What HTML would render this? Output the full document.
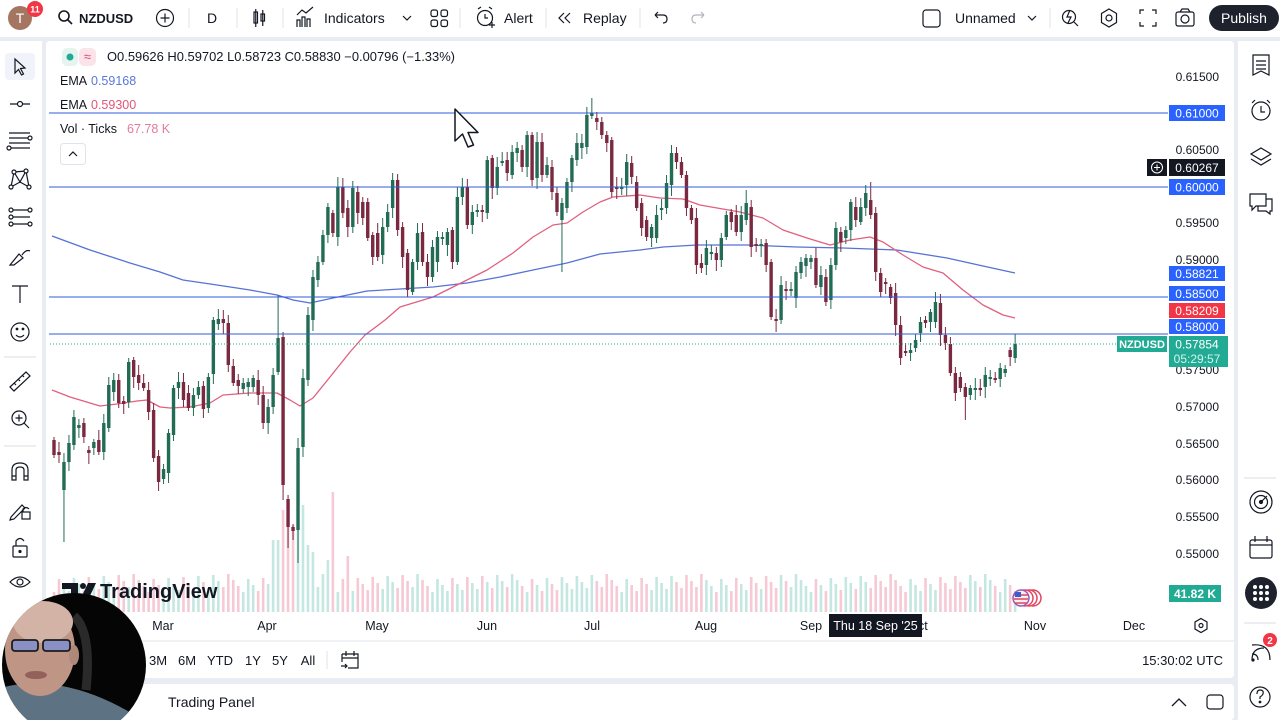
<!DOCTYPE html>
<html><head><meta charset="utf-8">
<style>
html,body{margin:0;padding:0;width:1280px;height:720px;overflow:hidden;background:#e9ecf2;}
svg{display:block;font-family:"Liberation Sans",sans-serif;}
</style></head><body>
<svg id="s" width="1280" height="720" viewBox="0 0 1280 720" xmlns="http://www.w3.org/2000/svg">
<defs>
<clipPath id="plot"><rect x="49" y="41" width="1119" height="571"/></clipPath>
<clipPath id="cam"><ellipse cx="74" cy="665" rx="72" ry="72"/></clipPath>
</defs>
<rect width="1280" height="720" fill="#e9ecf2"/>
<!-- panels -->
<rect x="0" y="0" width="1280" height="37" fill="#fff"/>
<rect x="0" y="41" width="42" height="679" fill="#fff"/>
<rect x="46" y="41" width="1188" height="637" rx="4" fill="#fff"/>
<rect x="1238" y="41" width="42" height="679" fill="#fff"/>
<rect x="46" y="684" width="1188" height="36" rx="4" fill="#fff"/>
<line x1="46" y1="641" x2="1234" y2="641" stroke="#e0e3eb"/>

<!-- TOP TOOLBAR -->
<g font-size="14" fill="#131722">
<circle cx="20" cy="18" r="12" fill="#a47560"/>
<text x="20" y="23" text-anchor="middle" fill="#fff" font-size="14">T</text>
<circle cx="35" cy="9" r="8" fill="#f23645"/>
<text x="35" y="12.5" text-anchor="middle" fill="#fff" font-size="9" font-weight="bold">11</text>
<circle cx="64" cy="16" r="5" fill="none" stroke="#131722" stroke-width="1.6"/>
<line x1="67.5" y1="19.5" x2="72" y2="24" stroke="#131722" stroke-width="1.6"/>
<text x="79" y="23" font-weight="bold" font-size="13">NZDUSD</text>
<circle cx="165" cy="18" r="8.5" fill="none" stroke="#131722" stroke-width="1.2"/>
<path d="M165 13.5V22.5M160.5 18H169.5" stroke="#131722" stroke-width="1.2"/>
<text x="212" y="23" text-anchor="middle">D</text>
<g stroke="#131722" stroke-width="1.2" fill="none"><rect x="254" y="12" width="3.5" height="11"/><line x1="255.75" y1="9" x2="255.75" y2="27"/><rect x="261" y="14" width="3.5" height="7"/><line x1="262.75" y1="10" x2="262.75" y2="26"/></g>
<g stroke="#131722" stroke-width="1.2" fill="none"><path d="M297 27V20H300V27M302 27V17H305V27M307 27V19H310V27M297 15L302 10L306 13L313 7"/></g>
<text x="324" y="23">Indicators</text>
<path d="M403 16L407 20L411 16" stroke="#131722" stroke-width="1.2" fill="none"/>
<g stroke="#131722" stroke-width="1.2" fill="none"><rect x="431" y="10" width="6.5" height="6.5" rx="2"/><rect x="441" y="10" width="6.5" height="6.5" rx="2"/><rect x="431" y="20" width="6.5" height="6.5" rx="2"/><rect x="441" y="20" width="6.5" height="6.5" rx="2"/></g>
<g stroke="#131722" stroke-width="1.2" fill="none"><circle cx="485" cy="18" r="7.5"/><path d="M485 14V18H488M478 9L481 7M492 9L489 7M489 25H495M492 22V28"/></g>
<text x="504" y="23">Alert</text>
<path d="M564 13L559 18L564 23M570 13L565 18L570 23" stroke="#131722" stroke-width="1.2" fill="none"/>
<text x="583" y="23">Replay</text>
<path d="M655 15H663Q667 15 667 19Q667 23 663 23M655 15L658 12M655 15L658 18" stroke="#131722" stroke-width="1.2" fill="none"/>
<path d="M704 15H696Q692 15 692 19Q692 23 696 23M704 15L701 12M704 15L701 18" stroke="#b2b5be" stroke-width="1.2" fill="none"/>
<g stroke="#e0e3eb"><line x1="189" y1="8" x2="189" y2="28"/><line x1="237" y1="8" x2="237" y2="28"/><line x1="283" y1="8" x2="283" y2="28"/><line x1="460" y1="8" x2="460" y2="28"/><line x1="546" y1="8" x2="546" y2="28"/><line x1="640" y1="8" x2="640" y2="28"/><line x1="1050" y1="8" x2="1050" y2="28"/></g>
<rect x="923" y="10" width="17" height="17" rx="3" fill="none" stroke="#131722" stroke-width="1.2"/>
<text x="955" y="23">Unnamed</text>
<path d="M1028 16L1032 20L1036 16" stroke="#131722" stroke-width="1.2" fill="none"/>
<g stroke="#131722" stroke-width="1.2" fill="none">
<circle cx="1069" cy="17" r="6.5"/><path d="M1074 22L1078 26M1070 10L1067 17H1071L1068 23"/>
<path d="M1109 9L1116.5 13.5V22.5L1109 27L1101.5 22.5V13.5Z"/><circle cx="1109" cy="18" r="3"/>
<path d="M1140 14V10H1144M1152 10H1156V14M1156 22V26H1152M1144 26H1140V22"/>
<rect x="1176" y="12" width="18" height="14" rx="2"/><circle cx="1185" cy="19" r="4"/><path d="M1180 12L1182 9H1188L1190 12"/>
</g>
<rect x="1209" y="5" width="70" height="26" rx="13" fill="#1e222d"/>
<text x="1244" y="23" text-anchor="middle" fill="#fff">Publish</text>
</g>

<!-- LEFT TOOLBAR -->
<g stroke="#131722" stroke-width="1.2" fill="none">
<rect x="5" y="53" width="30" height="27" rx="4" fill="#f0f3fa" stroke="none"/>
<path d="M15 59L15 73L18.5 69.5L21.5 75L23.5 74L20.5 68.5L25 68Z"/>
<line x1="10" y1="104" x2="30" y2="104"/><circle cx="20" cy="104" r="2.5" fill="#fff"/>
<path d="M9 133H30M9 138H28M9 143H30M11 148H30"/><circle cx="30" cy="138" r="2" fill="#fff"/><circle cx="9" cy="148" r="2" fill="#fff"/>
<path d="M11 187L14 172L20 182L26 171L29 187M14 172L26 171M11 187L20 182L29 187"/><circle cx="14" cy="172" r="2" fill="#fff"/><circle cx="26" cy="171" r="2" fill="#fff"/><circle cx="11" cy="187" r="2" fill="#fff"/><circle cx="29" cy="187" r="2" fill="#fff"/>
<path d="M11 210H30M11 217H30M11 224H30"/><circle cx="11" cy="210" r="2" fill="#fff"/><circle cx="11" cy="217" r="2" fill="#fff"/><circle cx="11" cy="224" r="2" fill="#fff"/><circle cx="30" cy="210" r="2" fill="#fff"/><circle cx="30" cy="224" r="2" fill="#fff"/>
<path d="M10 265L19 254L23 258L14 265ZM22 255Q26 249 30 251"/>
<path d="M12 286H28M20 286V303"/>
<circle cx="20" cy="332" r="9"/><path d="M16 335Q20 339 24 335"/><circle cx="17" cy="329" r="0.8" fill="#131722"/><circle cx="23" cy="329" r="0.8" fill="#131722"/>
<line x1="4" y1="357" x2="36" y2="357" stroke="#e0e3eb"/>
<path d="M10 387L26 372L30 376L14 391Z M14 383L16 385M18 379L20 381M22 375L24 377"/>
<circle cx="19" cy="418" r="7"/><path d="M19 414.5V421.5M15.5 418H22.5M24 423L29 428"/>
<line x1="4" y1="446" x2="36" y2="446" stroke="#e0e3eb"/>
<path d="M12 480V470Q12 463 20 463Q28 463 28 470V480H24V470Q24 467 20 467Q16 467 16 470V480Z M12 476H16M24 476H28"/>
<path d="M11 517L22 505L25 508L14 519L10 520Z"/><rect x="22" y="512" width="8" height="7"/><path d="M23 512V509Q26 506 29 509"/>
<rect x="13" y="546" width="14" height="11" rx="1"/><path d="M16 546V541Q20 536 24 541"/><circle cx="20" cy="551.5" r="1" fill="#131722"/>
<path d="M10 582Q20 572 30 582Q20 592 10 582Z"/><circle cx="20" cy="582" r="3"/>
</g>

<!-- RIGHT TOOLBAR -->
<g stroke="#131722" stroke-width="1.2" fill="none">
<path d="M1253 55H1269V75L1261 71L1253 75Z M1256 61H1266M1256 65H1266M1256 69H1266"/>
<circle cx="1261" cy="111" r="9"/><path d="M1261 106V112H1265M1252 103L1255 100M1270 103L1267 100"/>
<path d="M1261 148L1271 154L1261 160L1251 154Z M1251 159L1261 165L1271 159"/>
<path d="M1250 194H1266V206H1256L1252 210V206H1250Z M1266 199H1272V211H1270V214L1266 211H1258V206"/>
<line x1="1244" y1="478" x2="1276" y2="478" stroke="#e0e3eb"/>
<circle cx="1261" cy="502" r="11"/><circle cx="1261" cy="502" r="6.5"/><path d="M1261 502L1267 496"/><circle cx="1261" cy="502" r="1.5" fill="#131722"/>
<rect x="1250" y="540" width="22" height="18" rx="2"/><path d="M1250 545H1272M1255 536V542M1267 536V542"/>
<line x1="1244" y1="623" x2="1276" y2="623" stroke="#e0e3eb"/>
<path d="M1252 660Q1252 648 1264 648M1252 654Q1258 654 1258 660M1252 645Q1270 643 1270 660"/>
<circle cx="1253" cy="660" r="1" fill="#131722"/>
<circle cx="1260" cy="697" r="10"/><path d="M1257 694Q1257 690 1260 690Q1264 690 1263 694Q1262 696 1260 697V699"/><circle cx="1260" cy="702" r="0.8" fill="#131722"/>
</g>
<circle cx="1261" cy="593" r="16" fill="#1e222d"/>
<g fill="#fff"><circle cx="1255" cy="587" r="2"/><circle cx="1261" cy="587" r="2"/><circle cx="1267" cy="587" r="2"/><circle cx="1255" cy="593" r="2"/><circle cx="1261" cy="593" r="2"/><circle cx="1267" cy="593" r="2"/><circle cx="1255" cy="599" r="2"/><circle cx="1261" cy="599" r="2"/><circle cx="1267" cy="599" r="2"/></g>
<circle cx="1270" cy="640" r="7" fill="#f23645"/>
<text x="1270" y="644" text-anchor="middle" font-size="10" font-weight="bold" fill="#fff">2</text>

<!-- CHART -->
<g clip-path="url(#plot)">
<g id="vol"></g>
<polyline fill="none" stroke="#5672d6" stroke-width="1.3" stroke-linejoin="round" points="52,236 90,250 130,263 160,272 183,280 217,285 250,290 277,295 293,300 310,303 333,298 367,291 400,289 433,287 467,283 500,277 533,270 567,263 600,254 640,250 663,247 697,245 747,245 797,247 843,248 897,250 947,258 983,266 1015,273"/>
<polyline fill="none" stroke="#e0607e" stroke-width="1.3" stroke-linejoin="round" points="52,390 70,397 100,406 117,404 137,401 147,400 160,407 170,408 190,407 210,403 223,395 250,393 277,393 290,400 300,406 313,398 330,377 350,352 365,335 385,320 400,307 433,297 457,285 487,270 513,253 533,237 553,225 567,223 583,212 600,202 613,197 640,195 660,198 683,199 700,205 717,208 740,212 763,218 783,230 807,238 830,245 850,240 870,237 883,242 903,255 923,267 943,273 963,290 983,305 1003,315 1015,318"/>
<g id="cdl"></g>
<g stroke="#2f5bd8" stroke-width="1"><line x1="44" y1="113" x2="1168" y2="113"/><line x1="44" y1="187" x2="1168" y2="187"/><line x1="44" y1="297" x2="1168" y2="297"/><line x1="44" y1="334" x2="1168" y2="334"/></g>
<line x1="44" y1="344" x2="1117" y2="344" stroke="#22ab94" stroke-dasharray="1 2"/>
</g>

<!-- Legend -->
<rect x="62" y="48" width="16" height="18" rx="5" fill="#e6f3ee"/>
<circle cx="70" cy="57" r="3.5" fill="#22ab94"/>
<rect x="79" y="48" width="17" height="18" rx="5" fill="#fbe3ea"/>
<text x="87.5" y="61" text-anchor="middle" font-size="13" fill="#e0457b">≈</text>
<g font-size="12.5" fill="#131722">
<text x="107" y="61" textLength="348" lengthAdjust="spacingAndGlyphs">O0.59626 H0.59702 L0.58723 C0.58830 −0.00796 (−1.33%)</text>
<text x="60" y="85">EMA</text><text x="91" y="85" fill="#5a77dc">0.59168</text>
<text x="60" y="109">EMA</text><text x="91" y="109" fill="#e0557a">0.59300</text>
<text x="60" y="133">Vol · Ticks</text><text x="127" y="133" fill="#e57a9d">67.78 K</text>
</g>
<rect x="60.5" y="143.5" width="25" height="21" rx="3" fill="#fff" stroke="#e0e3eb"/>
<path d="M69 156L73 152L77 156" stroke="#131722" stroke-width="1.2" fill="none"/>

<!-- Price axis -->
<g font-size="12" fill="#131722" text-anchor="end">
<text x="1219" y="81">0.61500</text>
<text x="1219" y="154">0.60500</text>
<text x="1219" y="227">0.59500</text>
<text x="1219" y="264">0.59000</text>
<text x="1219" y="374">0.57500</text>
<text x="1219" y="411">0.57000</text>
<text x="1219" y="448">0.56500</text>
<text x="1219" y="484">0.56000</text>
<text x="1219" y="521">0.55500</text>
<text x="1219" y="558">0.55000</text>
</g>
<g font-size="12" text-anchor="middle" fill="#fff">
<rect x="1169" y="105" width="56" height="16" fill="#2962ff"/><text x="1197" y="117.5">0.61000</text>
<rect x="1147" y="159" width="20" height="17" fill="#131722"/><circle cx="1157" cy="167.5" r="5.5" fill="none" stroke="#fff" stroke-width="1"/><path d="M1157 164.5V170.5M1154 167.5H1160" stroke="#fff"/>
<rect x="1169" y="159" width="56" height="17" fill="#131722"/><text x="1197" y="172">0.60267</text>
<rect x="1169" y="179" width="56" height="16" fill="#2962ff"/><text x="1197" y="191.5">0.60000</text>
<rect x="1169" y="266" width="56" height="15" fill="#2962ff"/><text x="1197" y="278">0.58821</text>
<rect x="1169" y="286" width="56" height="15" fill="#2962ff"/><text x="1197" y="298">0.58500</text>
<rect x="1169" y="303" width="56" height="15" fill="#f23645"/><text x="1197" y="315">0.58209</text>
<rect x="1169" y="319" width="56" height="15" fill="#2962ff"/><text x="1197" y="331">0.58000</text>
<rect x="1117" y="336" width="50" height="16" fill="#22ab94"/><text x="1142" y="348" font-size="11" font-weight="bold">NZDUSD</text>
<rect x="1169" y="336" width="59" height="31" fill="#22ab94"/><text x="1197" y="348.5">0.57854</text><text x="1197" y="363" fill="#d6f2ec">05:29:57</text>
<rect x="1169" y="585" width="52" height="17" fill="#22ab94"/><text x="1195" y="598" font-weight="bold">41.82 K</text>
</g>

<!-- Cursor -->
<path d="M455 109L455 141L462.5 134L468 147L473.5 145L468 132.5L478 132.5Z" fill="#fff" stroke="#131722" stroke-width="1.5" stroke-linejoin="round"/>

<!-- TradingView logo -->
<g fill="#131722">
<path d="M62 583H78V598H71V589H62Z"/>
<circle cx="83" cy="586" r="3"/>
<path d="M88 583H96L89 598H81Z"/>
<text x="100" y="598" font-size="20" font-weight="bold">TradingView</text>
</g>

<!-- events icon -->
<g>
<circle cx="1033" cy="598" r="8" fill="#fff" stroke="#e2455f" stroke-width="1.5"/>
<circle cx="1029" cy="598" r="8" fill="#fff" stroke="#e2455f" stroke-width="1.5"/>
<circle cx="1025" cy="598" r="8" fill="#fff" stroke="#e2455f" stroke-width="1.5"/>
<circle cx="1021" cy="598" r="8" fill="#f0f0f0" stroke="#9b59b6" stroke-width="1.5"/>
<path d="M1014 595H1028M1014 599H1028M1015 603H1027" stroke="#e2455f" stroke-width="1.5"/>
<rect x="1015" y="592" width="6" height="5" fill="#3c5ccf"/>
</g>

<!-- Time axis -->
<g font-size="12.5" fill="#131722" text-anchor="middle">
<text x="163" y="630">Mar</text><text x="267" y="630">Apr</text><text x="377" y="630">May</text><text x="487" y="630">Jun</text><text x="592" y="630">Jul</text><text x="706" y="630">Aug</text><text x="811" y="630">Sep</text><text x="918" y="630">Oct</text><text x="1035" y="630">Nov</text><text x="1134" y="630">Dec</text>
</g>
<rect x="829" y="614" width="93" height="23" fill="#131722"/>
<text x="875.5" y="630" text-anchor="middle" font-size="12.5" fill="#fff">Thu 18 Sep '25</text>
<path d="M1201 618.5L1207 622V629L1201 632.5L1195 629V622Z" fill="none" stroke="#131722" stroke-width="1.2"/><circle cx="1201" cy="625.5" r="2" fill="none" stroke="#131722" stroke-width="1.2"/>

<!-- Range bar -->
<g font-size="13" fill="#131722" text-anchor="middle">
<text x="158" y="665">3M</text><text x="187" y="665">6M</text><text x="220" y="665">YTD</text><text x="253" y="665">1Y</text><text x="280" y="665">5Y</text><text x="308" y="665">All</text>
</g>
<line x1="327" y1="651" x2="327" y2="669" stroke="#e0e3eb"/>
<path d="M342 654H358V668H348M342 654V662M342 658H358M346 651V656M354 651V656M341 666H347M345 664L347 666L345 668" stroke="#131722" stroke-width="1.2" fill="none"/>
<text x="1223" y="665" text-anchor="end" font-size="13" fill="#131722">15:30:02 UTC</text>

<!-- Trading panel -->
<text x="168" y="707" font-size="14" fill="#131722">Trading Panel</text>
<path d="M1172 706L1179 699L1186 706" stroke="#131722" stroke-width="1.3" fill="none"/>
<rect x="1207" y="695" width="16" height="14" rx="3" fill="none" stroke="#131722" stroke-width="1.2"/>

<!-- webcam -->
<ellipse cx="74" cy="665" rx="72" ry="72" fill="#050505"/>
<g clip-path="url(#cam)">
<path d="M0 688Q30 680 62 686Q105 694 150 725L150 740L0 740Z" fill="#5d7384"/>
<path d="M74 616Q92 632 86 690" stroke="#2a2a2a" stroke-width="9" fill="none"/>
<ellipse cx="40" cy="650" rx="35" ry="46" fill="#bf9585"/>
<ellipse cx="43" cy="622" rx="30" ry="21" fill="#d4b3a7"/>
<ellipse cx="74" cy="655" rx="5" ry="10" fill="#b0887a"/>
<rect x="12" y="640" width="26" height="11" rx="3" fill="#8a90c4" stroke="#1c1c1c" stroke-width="1.8"/>
<rect x="43" y="640" width="27" height="11" rx="3" fill="#8a90c4" stroke="#1c1c1c" stroke-width="1.8"/>
<ellipse cx="36" cy="675" rx="11" ry="4" fill="#93605a"/>
</g>
</svg>
<script>
const D=[
[440,455,0],[452,455,0],[462,490,1],[443,462,1],[417,445,1],[425,428,1],[423,437,0],[450,453,0],[442,448,1],[440,452,0],
[423,452,1],[385,428,1],[380,392,1],[380,403,0],[401,404,0],[362,402,1],[360,377,0],[375,383,0],[383,388,0],[390,412,0],
[410,458,0],[456,482,0],[469,479,1],[433,473,1],[388,435,1],[382,388,1],[382,400,0],[393,408,0],[395,408,1],[387,395,1],
[386,409,0],[377,408,1],[320,374,1],[319,324,1],[319,323,0],[323,365,0],[366,383,0],[380,386,0],[383,389,1],[382,387,1],
[378,387,1],[380,395,0],[395,423,0],[407,423,1],[375,407,1],[338,372,1],[337,485,0],[499,527,0],[527,531,0],[448,530,1],
[378,447,1],[315,380,1],[277,320,1],[262,280,1],[235,262,1],[207,235,1],[213,233,0],[187,237,1],[187,213,0],[208,227,0],
[188,227,1],[192,213,0],[202,218,0],[202,238,0],[235,257,0],[233,257,0],[227,255,1],[212,227,1],[180,208,1],[180,230,0],
[227,257,0],[253,290,0],[262,292,1],[233,262,1],[232,262,0],[262,277,0],[247,277,1],[237,262,1],[237,239,1],[232,245,1],
[230,262,0],[197,262,1],[187,197,1],[187,225,0],[212,225,1],[210,212,1],[210,212,0],[160,213,1],[158,188,0],[167,188,1],
[161,163,1],[160,173,0],[152,175,1],[148,153,1],[150,167,0],[135,167,1],[135,180,0],[142,178,1],[142,175,0],[165,175,1],
[167,192,0],[193,212,0],[203,220,1],[182,208,1],[158,182,1],[143,160,1],[143,148,1],[115,147,1],[113,116,1],[118,122,0],
[122,135,0],[135,143,0],[140,192,0],[187,189,0],[187,189,1],[162,185,1],[163,177,0],[182,208,0],[203,228,0],[220,237,0],
[227,238,1],[215,238,1],[208,210,1],[183,208,1],[153,185,1],[153,162,0],[162,175,0],[175,208,0],[208,220,0],[218,265,0],
[263,268,0],[248,265,1],[252,254,1],[253,260,0],[238,260,1],[215,237,1],[212,222,0],[215,232,0],[215,232,1],[203,220,1],
[207,247,0],[244,246,0],[244,246,1],[243,265,0],[262,317,0],[319,321,0],[285,320,1],[289,291,0],[289,291,1],[272,298,1],
[262,273,1],[258,266,1],[258,262,1],[258,285,0],[275,287,1],[277,302,0],[265,300,1],[228,265,1],[232,242,0],[230,238,1],
[202,230,1],[207,220,0],[207,222,1],[193,208,1],[200,215,0],[213,272,0],[273,292,0],[282,284,0],[287,298,0],[293,325,0],
[325,358,0],[351,353,0],[350,353,1],[340,348,1],[322,333,1],[320,323,0],[312,322,1],[302,322,1],[303,335,0],[335,343,0],
[344,373,0],[373,393,0],[377,388,0],[387,397,0],[388,395,1],[388,390,1],[388,390,0],[375,387,1],[377,379,1],[378,380,0],
[368,379,1],[369,373,1],[350,357,0],[344,358,1]];
const W={2:[0,542],45:[295,0],46:[0,500],47:[0,548],48:[0,540],49:[0,563],102:[0,272],108:[98,0],124:[145,0],139:[190,0],145:[0,332],164:[182,0],183:[0,420]};
const VH={44:72,45:72,46:102,47:92,48:87,49:112,50:107,51:67,52:60,55:52,56:120,59:56};
let g='',v='';
D.forEach((d,i)=>{
 const x=(54+i*4.98).toFixed(2);
 let t=d[0],b=d[1]; if(b-t<1.5){b=t+1.5;}
 let hi=t-(3+(i*7)%8), lo=b+(3+(i*5)%9);
 if(W[i]){ if(W[i][0]) hi=W[i][0]; if(W[i][1]) lo=W[i][1]; }
 const c=d[2]?'#226b55':'#7a2940';
 g+='<line x1="'+x+'" y1="'+hi+'" x2="'+x+'" y2="'+lo+'" stroke="'+c+'" stroke-width="1"/>';
 g+='<rect x="'+(x-1.7)+'" y="'+t+'" width="3.4" height="'+(b-t)+'" fill="'+c+'"/>';
 const h=VH[i]||(20+((i*13)%19));
 v+='<rect x="'+(x-1.3)+'" y="'+(612-h)+'" width="2.6" height="'+h+'" fill="'+(d[2]?'#c4e7e1':'#f6c9d5')+'"/>';
});
document.getElementById('vol').innerHTML=v;
document.getElementById('cdl').innerHTML=g;
</script>
</body></html>
